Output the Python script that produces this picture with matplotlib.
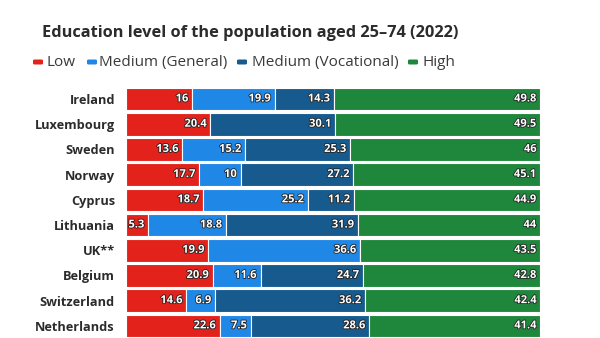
import matplotlib.pyplot as plt
import matplotlib.patheffects as pe
from matplotlib.patches import FancyBboxPatch
import numpy as np

plt.rcParams['font.family'] = ['Open Sans', 'DejaVu Sans']

countries = ["Ireland", "Luxembourg", "Sweden", "Norway", "Cyprus",
             "Lithuania", "UK**", "Belgium", "Switzerland", "Netherlands"]
low = [16, 20.4, 13.6, 17.7, 18.7, 5.3, 19.9, 20.9, 14.6, 22.6]
medium_general = [19.9, 0, 15.2, 10, 25.2, 18.8, 36.6, 11.6, 6.9, 7.5]
medium_vocational = [14.3, 30.1, 25.3, 27.2, 11.2, 31.9, 0, 24.7, 36.2, 28.6]
high = [49.8, 49.5, 46, 45.1, 44.9, 44, 43.5, 42.8, 42.4, 41.4]

series = [
    ("Low", low, "#e3221c"),
    ("Medium (General)", medium_general, "#1f87e6"),
    ("Medium (Vocational)", medium_vocational, "#175a8d"),
    ("High", high, "#1f873c"),
]

W, H = 600, 338
fig = plt.figure(figsize=(W / 100, H / 100), dpi=100)
ax = fig.add_axes([126 / W, 0, (540 - 126) / W, (H - 86) / H])

y = np.arange(len(countries))
left = np.zeros(len(countries))
outline = [pe.withStroke(linewidth=1.2, foreground="#222222")]
for name, vals, color in series:
    vals = np.array(vals, dtype=float)
    ax.barh(y, vals, left=left, height=0.9, color=color,
            edgecolor="white", linewidth=0.8)
    for i, v in enumerate(vals):
        if v > 0:
            ax.text(left[i] + v - 0.9, y[i], f"{v:g}", ha="right", va="center",
                    fontsize=8, fontweight="bold", color="white",
                    path_effects=outline)
    left += vals

ax.set_xlim(0, 100)
ax.set_ylim(9.48, -0.516)
ax.set_yticks(y)
ax.set_yticklabels(countries, fontsize=9.2, fontweight="bold", color="#2b2b2b")
ax.tick_params(axis="y", length=0, pad=8)
ax.set_xticks([])
for s in ax.spines.values():
    s.set_visible(False)

fig.text(250 / W, 1 - 33 / H, "Education level of the population aged 25\u201374 (2022)",
         ha="center", va="center", fontsize=11.8, fontweight="bold", color="#2b2b2b")

# legend drawn by hand: small rounded swatch followed by the label
legend_x = [(33, 46), (87, 99), (237, 252), (408, 422)]
for (name, _, color), (sx, tx) in zip(series, legend_x):
    fig.patches.append(FancyBboxPatch(
        (sx / W, 1 - 64.5 / H), 10 / W, 5 / H,
        boxstyle="round,pad=0,rounding_size=0.003",
        transform=fig.transFigure, facecolor=color, edgecolor="none"))
    fig.text(tx / W, 1 - 62.5 / H, name, ha="left", va="center",
             fontsize=11, color="#3a3a3a")

fig.savefig("out.png", dpi=100)
